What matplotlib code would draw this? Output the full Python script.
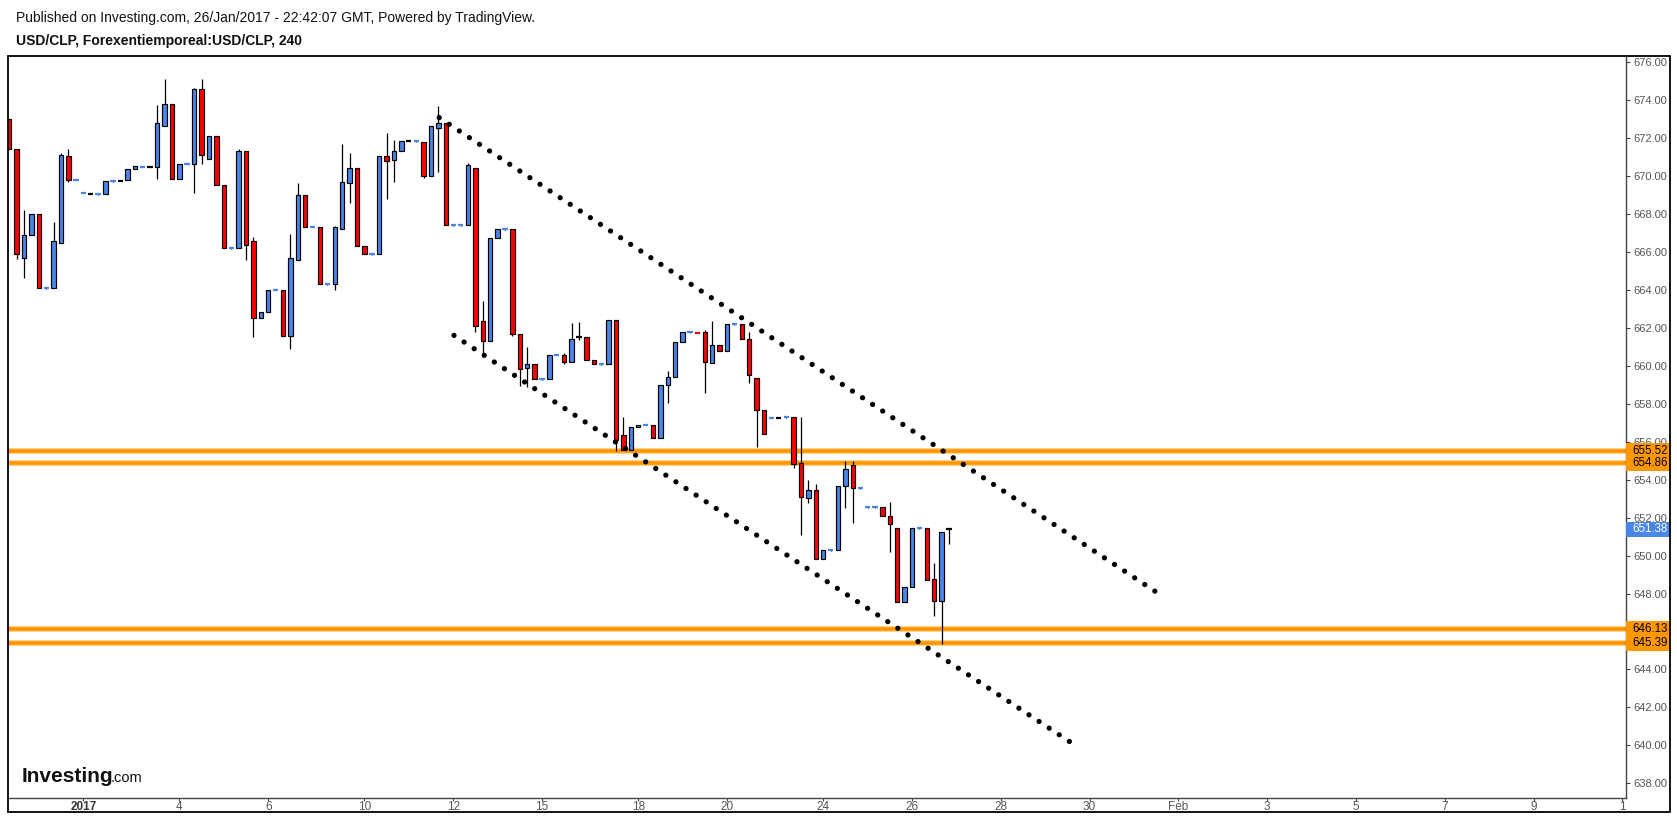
import numpy as np
import matplotlib
matplotlib.use("Agg")
import matplotlib.pyplot as plt
from matplotlib.patches import Rectangle
from matplotlib.transforms import blended_transform_factory

plt.rcParams['font.family'] = ['Liberation Sans', 'DejaVu Sans']

# ---------------- data (4H candles, bar index 0..127) ----------------
opens = [673.00, 671.42, 665.67, 666.89, 668.00, 664.08, 664.09, 666.50, 671.05, 669.79,
         669.09, 669.05, 669.02, 669.05, 669.72, 669.75, 669.78, 670.37, 670.49, 670.50,
         670.47, 672.65, 673.81, 669.84, 670.62, 670.63, 674.59, 670.90, 672.11, 669.52,
         666.19, 666.20, 671.33, 666.57, 662.55, 662.83, 663.98, 663.99, 661.56, 665.57,
         669.00, 667.30, 667.31, 664.29, 664.30, 667.20, 669.63, 670.42, 666.31, 665.87,
         665.88, 671.05, 670.84, 671.33, 671.84, 671.83, 671.79, 669.99, 672.53, 672.79,
         667.40, 667.40, 667.41, 670.42, 662.35, 661.30, 666.73, 667.19, 667.20, 661.66,
         659.87, 660.08, 659.28, 659.29, 660.55, 660.56, 660.19, 661.52, 661.50, 660.29,
         660.07, 660.08, 662.40, 656.34, 655.55, 656.76, 656.86, 656.87, 656.18, 658.97,
         659.40, 661.24, 661.76, 661.78, 661.77, 660.13, 661.08, 660.77, 662.18, 662.19,
         661.40, 659.34, 657.66, 657.24, 657.27, 657.28, 657.29, 654.86, 653.01, 653.44,
         649.80, 650.26, 650.27, 653.65, 654.75, 653.53, 652.53, 652.53, 652.54, 652.07,
         651.43, 647.53, 648.37, 651.42, 651.43, 648.74, 647.58, 651.38]
closes = [671.42, 665.88, 666.89, 668.00, 664.09, 664.10, 666.57, 671.10, 669.80, 669.81,
          669.11, 669.05, 669.04, 669.73, 669.74, 669.75, 670.37, 670.53, 670.51, 670.50,
          672.79, 673.81, 669.84, 670.63, 670.64, 674.59, 671.10, 672.11, 669.52, 666.20,
          666.21, 671.33, 666.36, 662.55, 662.83, 663.99, 664.00, 661.56, 665.67, 669.00,
          667.31, 667.32, 664.30, 664.31, 667.31, 669.68, 670.42, 666.31, 665.88, 665.89,
          671.05, 670.79, 671.33, 671.84, 671.84, 671.84, 669.99, 672.64, 672.79, 667.41,
          667.41, 667.41, 670.58, 662.09, 661.30, 666.73, 667.20, 667.20, 661.66, 659.82,
          660.10, 659.29, 659.29, 660.56, 660.56, 660.19, 661.40, 661.52, 660.29, 660.08,
          660.08, 662.40, 656.08, 655.55, 656.76, 656.87, 656.87, 656.18, 658.97, 659.40,
          661.24, 661.77, 661.77, 661.76, 660.19, 661.08, 660.77, 662.19, 662.19, 661.40,
          659.50, 657.66, 656.39, 657.25, 657.27, 657.29, 654.84, 653.07, 653.44, 649.80,
          650.27, 650.27, 653.65, 654.54, 653.54, 653.54, 652.54, 652.54, 652.07, 651.64,
          647.53, 648.37, 651.43, 651.43, 648.70, 647.63, 651.27, 651.38]
highs = [673.00, 671.42, 668.22, 668.00, 668.00, 664.10, 667.57, 671.20, 671.42, 669.81,
         669.11, 669.05, 669.04, 669.73, 669.74, 669.75, 670.37, 670.53, 670.51, 670.50,
         673.76, 675.13, 673.81, 670.63, 670.64, 674.66, 675.13, 672.11, 672.11, 669.52,
         666.21, 671.44, 671.33, 666.80, 662.83, 663.99, 664.00, 663.99, 666.95, 669.63,
         669.00, 667.32, 667.31, 664.31, 667.35, 671.70, 671.23, 670.42, 666.31, 665.89,
         671.05, 672.28, 671.91, 671.84, 671.84, 671.84, 671.79, 672.64, 673.71, 672.79,
         667.41, 667.41, 670.68, 670.42, 663.42, 666.73, 667.20, 667.20, 667.20, 661.66,
         661.00, 660.08, 659.29, 660.56, 660.56, 660.70, 662.26, 662.30, 661.50, 660.29,
         660.08, 662.40, 662.40, 657.32, 656.76, 656.87, 656.87, 656.87, 658.97, 659.73,
         661.24, 661.77, 661.77, 661.78, 661.89, 662.35, 661.08, 662.19, 662.19, 662.19,
         661.77, 659.34, 657.66, 657.25, 657.27, 657.29, 657.29, 657.29, 653.98, 653.77,
         650.27, 650.27, 653.65, 654.98, 654.98, 653.54, 652.54, 652.54, 652.54, 652.80,
         651.43, 648.37, 651.43, 651.43, 651.43, 649.62, 651.27, 651.40]
lows = [671.42, 665.62, 664.62, 666.89, 664.09, 664.08, 664.09, 666.46, 669.68, 669.79,
        669.09, 669.05, 669.02, 669.05, 669.72, 669.75, 669.78, 670.37, 670.49, 670.50,
        669.84, 672.65, 669.84, 669.84, 670.62, 669.10, 670.63, 670.90, 669.52, 666.20,
        666.19, 666.20, 665.58, 661.54, 662.55, 662.83, 663.98, 661.56, 660.87, 665.57,
        667.31, 667.30, 664.30, 664.29, 664.00, 667.20, 668.60, 666.31, 665.88, 665.87,
        665.88, 668.82, 669.71, 671.33, 671.84, 671.83, 669.90, 669.99, 670.24, 667.41,
        667.40, 667.40, 667.41, 661.80, 660.48, 661.30, 666.73, 667.19, 661.60, 658.95,
        658.87, 659.29, 659.28, 659.29, 660.55, 660.10, 660.19, 661.36, 660.29, 660.08,
        660.07, 660.08, 655.53, 655.55, 655.55, 656.76, 656.86, 656.18, 656.18, 658.06,
        659.40, 661.24, 661.76, 661.76, 658.55, 660.13, 660.77, 660.77, 662.18, 661.40,
        659.08, 655.70, 656.39, 657.24, 657.27, 657.28, 654.60, 651.06, 652.75, 649.80,
        649.80, 650.26, 650.27, 652.49, 651.70, 653.53, 652.53, 652.53, 652.07, 650.20,
        647.53, 647.53, 648.37, 651.42, 648.70, 646.82, 645.33, 650.59]

tick_idx = [10, 23, 35, 48, 60, 72, 85, 97, 110, 122, 134, 146, 158, 170, 182, 194, 206, 218]
tick_labels = ['2017', '4', '6', '10', '12', '15', '18', '20', '24', '26', '28', '30',
               'Feb', '3', '5', '7', '9', '1']

price_ticks = list(range(638, 677, 2))
hidden_price_ticks = [646]   # fully covered by the level labels in the original

levels = [655.52, 654.86, 646.13, 645.39]
last_price = 651.38

upper_x = [58.1, 155.5]
upper_y = [673.09, 647.95]
lower_x = [60.1, 144.05]
lower_y = [661.61, 640.00]

# ---------------- figure ----------------
W, H = 1677, 816
fig = plt.figure(figsize=(W / 100, H / 100), dpi=100)
fig.patch.set_facecolor('white')

def fx(px):
    return px / W

def fy(py):
    return 1 - py / H

ax = fig.add_axes([fx(7.5), fy(798), fx(1626) - fx(7.5), fy(55.6) - fy(798)])
ax.set_xlim(-0.24, 218.5)
ax.set_ylim(637.22, 676.36)

BLUE = '#4a86e8'
RED = '#ff0000'
ORANGE = '#ff9800'

o = np.array(opens); c = np.array(closes); hi = np.array(highs); lo = np.array(lows)
idx = np.arange(len(o))

# wicks
ax.vlines(idx, lo, hi, color='black', lw=0.9, zorder=2)

# bodies
bw = 0.6
flat = np.abs(c - o) < 0.03
up = c >= o
body = ~flat
cols = np.where(up, BLUE, RED)
ax.bar(idx[body], (c - o)[body], bottom=o[body], width=bw, color=cols[body],
       edgecolor='black', linewidth=0.85, zorder=3)
# flat candles: short dash
for i in idx[flat]:
    if abs(c[i] - o[i]) < 1e-9:
        col = 'black'
    else:
        col = BLUE if c[i] > o[i] else RED
    ax.hlines(c[i], i - 0.36, i + 0.36, color=col, lw=1.6, zorder=3)

# horizontal support/resistance levels
for lv in levels:
    ax.axhline(lv, color='#ffd08a', lw=4.2, zorder=1.5)
    ax.axhline(lv, color=ORANGE, lw=2.6, zorder=1.6)

# dotted channel lines
dot = dict(color='black', lw=3.8, linestyle=(0, (0.01, 2.28)), dash_capstyle='round', zorder=4)
ax.plot(upper_x, upper_y, **dot)
ax.plot(lower_x, lower_y, **dot)

# axes styling
for s in ['left', 'top']:
    ax.spines[s].set_visible(False)
ax.spines['right'].set_color('#444444')
ax.spines['bottom'].set_color('#444444')
ax.spines['right'].set_linewidth(1.0)
ax.spines['bottom'].set_linewidth(1.0)

ax.yaxis.tick_right()
ax.set_yticks(price_ticks)
ax.set_yticklabels(['' if v in hidden_price_ticks else f'{v:.2f}' for v in price_ticks])
ax.tick_params(axis='y', direction='out', length=3, width=0.8, color='#444444',
               labelcolor='#555555', labelsize=8, pad=2)
ax.set_xticks(tick_idx)
ax.set_xticklabels(tick_labels)
ax.tick_params(axis='x', direction='out', length=2.5, width=0.8, color='#444444',
               labelcolor='#555555', labelsize=8.5, pad=0)
ax.get_xticklabels()[0].set_fontweight('bold')
ax.get_xticklabels()[0].set_color('#333333')

# price labels on the right axis
tr = blended_transform_factory(ax.transAxes, ax.transData)
box_w = (1670 - 1626) / (1626 - 7.5)
box_h = 15 / 18.97
for lv in levels:
    ax.add_patch(Rectangle((1.0, lv - box_h / 2), box_w, box_h, transform=tr,
                           facecolor=ORANGE, edgecolor='none', clip_on=False, zorder=6))
    ax.text(1.0 + 6 / 1618.5, lv, f'{lv:.2f}', transform=tr, ha='left', va='center',
            fontsize=8.3, color='black', clip_on=False, zorder=7)
ax.add_patch(Rectangle((1.0, last_price - box_h / 2), box_w, box_h, transform=tr,
                       facecolor=BLUE, edgecolor='none', clip_on=False, zorder=6))
ax.text(1.0 + 6 / 1618.5, last_price, f'{last_price:.2f}', transform=tr, ha='left',
        va='center', fontsize=8.3, color='white', clip_on=False, zorder=7)

# outer frame
fig.add_artist(Rectangle((fx(7.5), fy(812)), fx(1670) - fx(7.5), fy(55.6) - fy(812),
                         transform=fig.transFigure, fill=False, edgecolor='black', lw=1.3))

# header texts
fig.text(fx(16), fy(18), 'Published on Investing.com, 26/Jan/2017 - 22:42:07 GMT, Powered by TradingView.',
         fontsize=10, color='#111111', va='center', ha='left')
fig.text(fx(16), fy(41), 'USD/CLP, Forexentiemporeal:USD/CLP, 240',
         fontsize=10, fontweight='bold', color='#111111', va='center', ha='left')

# logo
fig.text(fx(22), fy(782), 'Investing', fontsize=15, fontweight='bold', color='#111111',
         va='baseline', ha='left')
fig.text(fx(111), fy(782), '.com', fontsize=10.5, color='#111111', va='baseline', ha='left')

fig.savefig('out.png', dpi=100, facecolor='white')
